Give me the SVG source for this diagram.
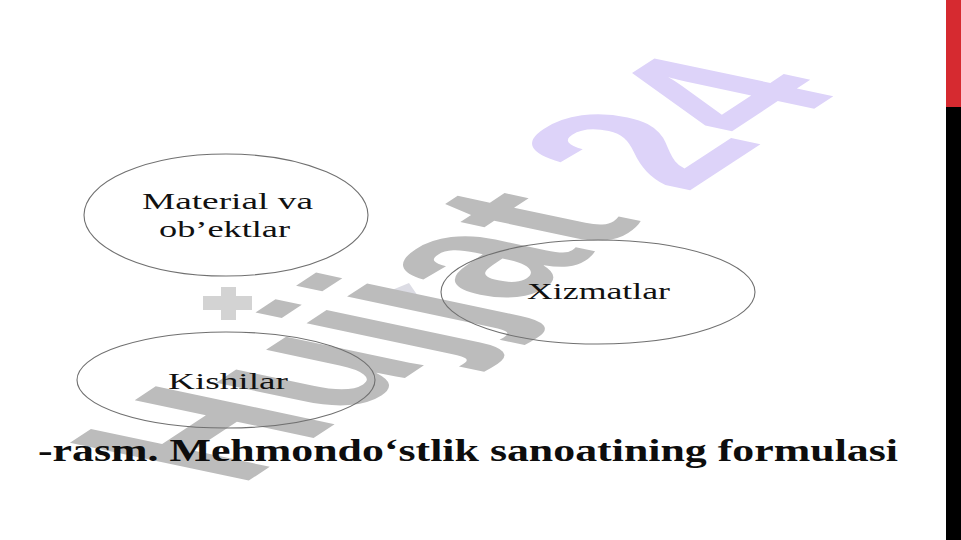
<svg xmlns="http://www.w3.org/2000/svg" width="961" height="540" viewBox="0 0 961 540">
<style>
.node-shape{fill:none;stroke:#707070;stroke-width:1.1}
.node-label{font-family:"Liberation Serif","Times New Roman",serif;font-size:24px;fill:#111}
.caption{font-family:"Liberation Serif","Times New Roman",serif;font-size:32px;font-weight:bold;fill:#0d0d0d}
.wm{font-family:"Liberation Sans",Arial,sans-serif;font-weight:bold;font-size:100px}
</style>
<rect x="0" y="0" width="961" height="540" fill="#ffffff"/>
<g id="side-bar">
<rect x="946" y="0" width="15" height="107" fill="#d62a30"/>
<rect x="946" y="107" width="15" height="433" fill="#000000"/>
</g>
<g id="watermark">
<rect x="203" y="296" width="49" height="14" fill="#d3d3d3"/>
<rect x="221" y="287" width="15" height="33" fill="#d3d3d3"/>
<polygon points="392,290 409,283 420,299 404,305" fill="#dcdce4"/>
<text class="wm" transform="matrix(1.46 -0.96 2.6 0.55 239 487)"><tspan fill="#bcbcbc">Hujjat </tspan><tspan fill="#ddd3f9">24</tspan></text>
</g>
<g id="connectors"/>
<g id="node-material">
<ellipse class="node-shape" cx="226" cy="215" rx="142" ry="61"/>
<text class="node-label" x="142" y="209" textLength="171" lengthAdjust="spacingAndGlyphs">Material va</text>
<text class="node-label" x="159" y="237" textLength="131" lengthAdjust="spacingAndGlyphs">ob’ektlar</text>
</g>
<g id="node-xizmatlar">
<ellipse class="node-shape" cx="598" cy="292" rx="157" ry="52"/>
<text class="node-label" x="527" y="299" textLength="143" lengthAdjust="spacingAndGlyphs">Xizmatlar</text>
</g>
<g id="node-kishilar">
<ellipse class="node-shape" cx="226" cy="380" rx="149" ry="48"/>
<text class="node-label" x="168" y="389" textLength="120" lengthAdjust="spacingAndGlyphs">Kishilar</text>
</g>
<g id="caption">
<text class="caption" x="38" y="461" textLength="860" lengthAdjust="spacingAndGlyphs">-rasm. Mehmondo‘stlik sanoatining formulasi</text>
</g>
</svg>
